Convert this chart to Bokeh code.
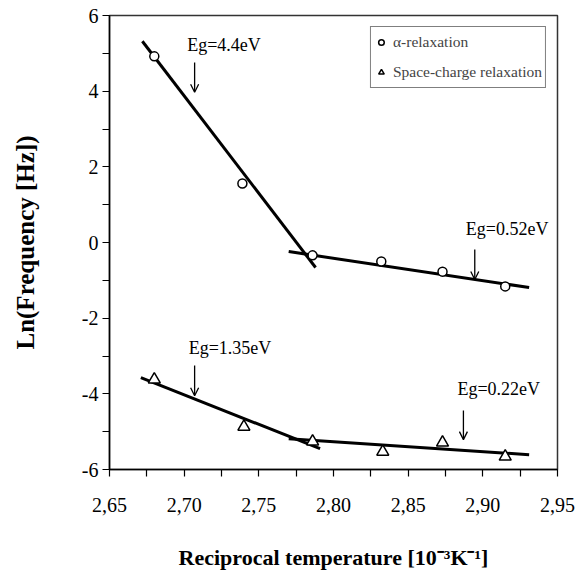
from bokeh.plotting import figure
from bokeh.models import (FixedTicker, CustomJSTickFormatter, Arrow, OpenHead,
                          Legend, LegendItem, Range1d, ColumnDataSource)
from bokeh.embed import file_html
from bokeh.resources import INLINE
from bokeh.core.properties import value

# ---- data ----
alpha_x = [2.680, 2.739, 2.786, 2.832, 2.873, 2.915]
alpha_y = [4.92, 1.56, -0.34, -0.50, -0.77, -1.16]
sc_x = [2.680, 2.740, 2.786, 2.833, 2.873, 2.915]
sc_y = [-3.62, -4.87, -5.26, -5.53, -5.29, -5.66]

fit_a1_x = [2.672, 2.788]
fit_a1_y = [5.32, -0.66]
fit_a2_x = [2.770, 2.931]
fit_a2_y = [-0.24, -1.19]
fit_s1_x = [2.671, 2.791]
fit_s1_y = [-3.57, -5.45]
fit_s2_x = [2.770, 2.931]
fit_s2_y = [-5.19, -5.61]

eg_labels = ["Eg=4.4eV", "Eg=0.52eV", "Eg=1.35eV", "Eg=0.22eV"]
eg_text_x = [2.702, 2.8886, 2.703, 2.883]
eg_text_y = [5.23, 0.37, -2.78, -3.86]
eg_arrow_x = [2.707, 2.8946, 2.707, 2.887]
eg_arrow_y0 = [4.76, -0.185, -3.25, -4.44]
eg_arrow_y1 = [3.97, -0.98, -4.05, -5.21]

x_ticks = [2.65, 2.70, 2.75, 2.80, 2.85, 2.90, 2.95]
x_minor = [2.675, 2.725, 2.775, 2.825, 2.875, 2.925]
y_ticks = [-6, -4, -2, 0, 2, 4, 6]
y_minor = [-5, -3, -1, 1, 3, 5]

SERIF = "Liberation Serif"

p = figure(width=576, height=578, x_range=Range1d(2.65, 2.95), y_range=Range1d(-6, 6),
           output_backend="svg", toolbar_location=None,
           min_border_left=109, min_border_right=19, min_border_top=15, min_border_bottom=109)
p.background_fill_color = "white"
p.border_fill_color = "white"
p.xgrid.visible = False
p.ygrid.visible = False
p.outline_line_color = "#333333"
p.outline_line_width = 1.5

# axes
p.xaxis.ticker = FixedTicker(ticks=x_ticks, minor_ticks=x_minor)
p.yaxis.ticker = FixedTicker(ticks=y_ticks, minor_ticks=y_minor)
p.xaxis.formatter = CustomJSTickFormatter(code="return tick.toFixed(2).replace('.', ',');")
p.yaxis.formatter = CustomJSTickFormatter(code="return tick.toFixed(0);")
for ax in (p.xaxis, p.yaxis):
    ax.axis_line_color = "black"
    ax.axis_line_width = 1.5
    ax.major_tick_line_color = "black"
    ax.minor_tick_line_color = "black"
    ax.major_tick_line_width = 1.2
    ax.minor_tick_line_width = 1.2
    ax.major_tick_in = 0
    ax.minor_tick_in = 0
    ax.major_tick_out = 7
    ax.minor_tick_out = 7
    ax.major_label_text_font = SERIF
    ax.major_label_text_font_size = "20px"
    ax.major_label_text_color = "black"
    ax.axis_label_text_font = SERIF
    ax.axis_label_text_font_style = "bold"
    ax.axis_label_text_color = "black"
p.xaxis.major_label_standoff = 21
p.yaxis.major_label_standoff = 4
p.xaxis.axis_label = "Reciprocal temperature [10\u207b\u00b3K\u207b\u00b9]"
p.yaxis.axis_label = "Ln(Frequency [Hz])"
p.xaxis.axis_label_text_font_size = "22px"
p.yaxis.axis_label_text_font_size = "25px"
p.xaxis.axis_label_standoff = 30
p.yaxis.axis_label_standoff = 40

# fit lines
for fx, fy in ((fit_a1_x, fit_a1_y), (fit_a2_x, fit_a2_y), (fit_s1_x, fit_s1_y), (fit_s2_x, fit_s2_y)):
    p.line(fx, fy, line_color="black", line_width=3)

# data points
r_a = p.scatter(alpha_x, alpha_y, marker="circle", size=9, fill_color="white",
                line_color="black", line_width=1.5)
r_s = p.scatter(sc_x, sc_y, marker="triangle", size=12, fill_color="white",
                line_color="black", line_width=1.5)

# annotations
p.text(eg_text_x, eg_text_y, text=eg_labels, text_font=value(SERIF), text_font_size="18px",
       text_baseline="middle", text_align="left", text_color="black")
arr_src = ColumnDataSource(dict(x=eg_arrow_x, y0=eg_arrow_y0, y1=eg_arrow_y1))
p.add_layout(Arrow(x_start="x", y_start="y0", x_end="x", y_end="y1", source=arr_src,
                   line_width=1.3, line_color="black",
                   end=OpenHead(size=8, line_width=1.3, line_color="black")))

legend = Legend(items=[LegendItem(label="\u03b1-relaxation", renderers=[r_a]),
                       LegendItem(label="Space-charge relaxation", renderers=[r_s])],
                location="top_right", margin=11, padding=3, spacing=6,
                glyph_width=14, glyph_height=24, label_height=24, label_standoff=5,
                label_text_font=SERIF, label_text_font_size="15.5px",
                border_line_color="black", border_line_width=1.5,
                background_fill_color="white", background_fill_alpha=1.0)
p.add_layout(legend)

open("out.html", "w").write(file_html(p, INLINE))
